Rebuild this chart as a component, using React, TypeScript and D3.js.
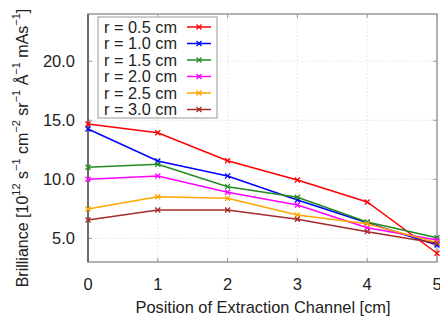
import React from "react";
import * as d3 from "d3";

const positions = [0, 1, 2, 3, 4, 5];
const seriesLabels = ["r = 0.5 cm", "r = 1.0 cm", "r = 1.5 cm", "r = 2.0 cm", "r = 2.5 cm", "r = 3.0 cm"];
const seriesColors = ["#ff0000", "#0000ff", "#228b22", "#ff00ff", "#ffa500", "#a52a2a"];
const r05 = [14.68, 13.95, 11.58, 9.94, 8.08, 3.74];
const r10 = [14.26, 11.55, 10.28, 8.25, 6.33, 4.44];
const r15 = [11.02, 11.27, 9.38, 8.48, 6.39, 5.06];
const r20 = [10.0, 10.28, 8.9, 7.83, 5.9, 4.86];
const r25 = [7.49, 8.53, 8.39, 6.98, 6.24, 4.63];
const r30 = [6.56, 7.4, 7.4, 6.62, 5.57, 4.58];
const seriesValues = [r05, r10, r15, r20, r25, r30];
const yTicks = [5, 10, 15, 20];
const xTicks = [0, 1, 2, 3, 4, 5];

const W = 440;
const H = 322;
const M = { left: 88, right: 437, top: 14, bottom: 262 };
const FONT = "'Liberation Sans', Arial, Helvetica, sans-serif";

export default function App() {
  const x = d3.scaleLinear().domain([0, 5]).range([M.left, M.right]);
  const y = d3.scaleLinear().domain([3, 24]).range([M.bottom, M.top]);
  const line = d3
    .line<number>()
    .x((_, i) => x(positions[i]))
    .y((d) => y(d));

  const legX = 98;
  const legY = 17;
  const legW = 119;
  const legH = 101;
  const rowH = 16.5;

  return (
    <svg
      width={W}
      height={H}
      style={{ position: "absolute", left: 0, top: 0, background: "#fff" }}
      fontFamily={FONT}
    >
      {/* grid */}
      {xTicks.slice(1, -1).map((t) => (
        <line key={"gx" + t} x1={x(t)} x2={x(t)} y1={M.top} y2={M.bottom} stroke="#dcdcdc" strokeWidth={0.8} strokeDasharray="1.5,2" />
      ))}
      {yTicks.map((t) => (
        <line key={"gy" + t} x1={M.left} x2={M.right} y1={y(t)} y2={y(t)} stroke="#dcdcdc" strokeWidth={0.8} strokeDasharray="1.5,2" />
      ))}
      {/* ticks */}
      {xTicks.map((t) => (
        <g key={"tx" + t}>
          <line x1={x(t)} x2={x(t)} y1={M.bottom} y2={M.bottom - 4} stroke="#999" strokeWidth={1} />
          <line x1={x(t)} x2={x(t)} y1={M.top} y2={M.top + 4} stroke="#999" strokeWidth={1} />
          <text x={x(t)} y={284} textAnchor="middle" dominantBaseline="central" fontSize={16.5} fill="#222">
            {t}
          </text>
        </g>
      ))}
      {yTicks.map((t) => (
        <g key={"ty" + t}>
          <line x1={M.left} x2={M.left + 4} y1={y(t)} y2={y(t)} stroke="#999" strokeWidth={1} />
          <line x1={M.right} x2={M.right - 4} y1={y(t)} y2={y(t)} stroke="#999" strokeWidth={1} />
          <text x={75} y={y(t)} textAnchor="end" dominantBaseline="central" fontSize={16.5} fill="#222">
            {t.toFixed(1)}
          </text>
        </g>
      ))}
      {/* border */}
      <rect x={M.left} y={M.top} width={M.right - M.left} height={M.bottom - M.top} fill="none" stroke="#999" strokeWidth={1.5} />
      <line x1={M.left} x2={M.left} y1={M.top} y2={M.bottom} stroke="#555" strokeWidth={1.5} />

      {/* series */}
      {seriesValues.map((vals, si) => (
        <g key={"s" + si}>
          <path d={line(vals) || ""} fill="none" stroke={seriesColors[si]} strokeWidth={1.5} />
          {vals.map((v, i) => (
            <path
              key={i}
              d={`M${x(positions[i]) - 2.5},${y(v) - 2.5}L${x(positions[i]) + 2.5},${y(v) + 2.5}M${x(positions[i]) - 2.5},${y(v) + 2.5}L${x(positions[i]) + 2.5},${y(v) - 2.5}`}
              stroke={seriesColors[si]}
              strokeWidth={1.3}
            />
          ))}
        </g>
      ))}

      {/* legend */}
      <rect x={legX} y={legY} width={legW} height={legH} fill="#fff" stroke="#999" strokeWidth={1} />
      {seriesLabels.map((lab, i) => {
        const cy = legY + 10 + i * rowH;
        return (
          <g key={"l" + i}>
            <text x={legX + 6} y={cy} dominantBaseline="central" fontSize={16} textLength={73} lengthAdjust="spacingAndGlyphs" fill="#222">
              {lab}
            </text>
            <line x1={187} x2={211} y1={cy} y2={cy} stroke={seriesColors[i]} strokeWidth={1.5} />
            <path d={`M196.5,${cy - 2.5}L201.5,${cy + 2.5}M196.5,${cy + 2.5}L201.5,${cy - 2.5}`} stroke={seriesColors[i]} strokeWidth={1.3} />
          </g>
        );
      })}

      {/* axis labels */}
      <text x={263} y={307} textAnchor="middle" dominantBaseline="central" fontSize={16.4} fill="#222">
        Position of Extraction Channel [cm]
      </text>
      <text
        transform={`translate(22,148) rotate(-90)`}
        textAnchor="middle"
        dominantBaseline="central"
        fontSize={16}
        fill="#222"
      >
        Brilliance [10
        <tspan dy={-6} fontSize={11}>12</tspan>
        <tspan dy={6}> s</tspan>
        <tspan dy={-6} fontSize={11}>−1</tspan>
        <tspan dy={6}> cm</tspan>
        <tspan dy={-6} fontSize={11}>−2</tspan>
        <tspan dy={6}> sr</tspan>
        <tspan dy={-6} fontSize={11}>−1</tspan>
        <tspan dy={6}> Å</tspan>
        <tspan dy={-6} fontSize={11}>−1</tspan>
        <tspan dy={6}> mAs</tspan>
        <tspan dy={-6} fontSize={11}>−1</tspan>
        <tspan dy={6}>]</tspan>
      </text>
    </svg>
  );
}
